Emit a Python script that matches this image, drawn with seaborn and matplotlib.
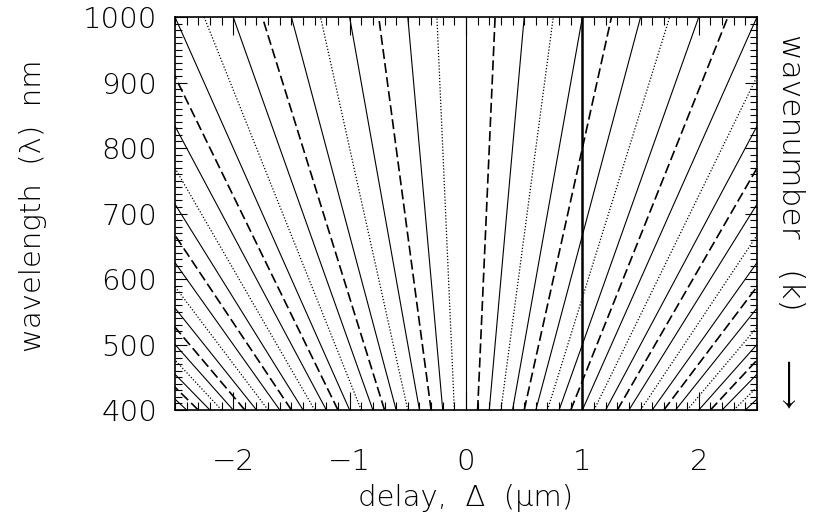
import numpy as np
import pandas as pd
import matplotlib
matplotlib.use("Agg")
import matplotlib.pyplot as plt
import seaborn as sns
from matplotlib import font_manager as fm
from matplotlib.ticker import MultipleLocator, FixedLocator

# ---- data ----
fringe_orders = [-6.25, -6.0, -5.75, -5.5, -5.25, -5.0, -4.75, -4.5, -4.25, -4.0,
                 -3.75, -3.5, -3.25, -3.0, -2.75, -2.5, -2.25, -2.0, -1.75, -1.5,
                 -1.25, -1.0, -0.75, -0.5, -0.25, 0.0, 0.25, 0.5, 0.75, 1.0,
                 1.25, 1.5, 1.75, 2.0, 2.25, 2.5, 2.75, 3.0, 3.25, 3.5,
                 3.75, 4.0, 4.25, 4.5, 4.75, 5.0, 5.25, 5.5, 5.75, 6.0, 6.25]
wavelength_ends = [400, 1000]          # nm
marker_delay = [1.0, 1.0]              # µm, vertical reference line
x_ticks = [-2, -1, 0, 1, 2]
x_tick_labels = ["\u22122", "\u22121", "0", "1", "2"]
y_ticks = [400, 500, 600, 700, 800, 900, 1000]
y_tick_labels = ["400", "500", "600", "700", "800", "900", "1000"]
x_limits = [-2.5, 2.5]
y_limits = [400, 1000]

rows = []
for c in fringe_orders:
    frac = c % 1.0
    kind = "solid" if frac in (0.0, 0.5) else ("dashed" if frac == 0.25 else "dotted")
    for lam in wavelength_ends:
        rows.append({"order": c, "kind": kind, "wavelength": lam, "delay": c * lam / 1000.0})
df = pd.DataFrame(rows)
marker_df = pd.DataFrame({"delay": marker_delay, "wavelength": wavelength_ends})

sns.set_theme(style="ticks")
plt.rcParams["font.family"] = ["DejaVu Sans"]
for key in ["text.color", "axes.labelcolor", "xtick.color", "ytick.color", "axes.edgecolor"]:
    plt.rcParams[key] = "black"

FS = 21
thin = [f for f in fm.fontManager.ttflist
        if f.name == "DejaVu Sans" and f.weight in (200, "extra-light", "ultralight")
        and f.style == "normal"]
if thin:
    FP = fm.FontProperties(fname=thin[0].fname, size=FS)
else:
    FP = fm.FontProperties(family="DejaVu Sans", weight="light", size=FS)
FP_R = FP.copy()
FP_R.set_size(FS + 1.5)

fig = plt.figure(figsize=(8.15, 5.23), dpi=100)
ax = fig.add_axes([175 / 815, 1 - 410 / 523, (757 - 175) / 815, (410 - 17) / 523])

styles = {"solid": dict(linestyle="-", lw=0.8),
          "dashed": dict(linestyle=(0, (6, 2.5)), lw=1.2),
          "dotted": dict(linestyle=(0, (1, 1.5)), lw=0.9)}
for kind, kw in styles.items():
    sub = df[df["kind"] == kind]
    sns.lineplot(data=sub, x="delay", y="wavelength", units="order", estimator=None,
                 sort=False, color="black", legend=False, ax=ax, **kw)
sns.lineplot(data=marker_df, x="delay", y="wavelength", estimator=None, sort=False,
             color="black", lw=1.8, legend=False, ax=ax)

ax.set_xlim(x_limits)
ax.set_ylim(y_limits)
ax.xaxis.set_major_locator(FixedLocator(x_ticks))
ax.yaxis.set_major_locator(FixedLocator(y_ticks))
ax.xaxis.set_minor_locator(MultipleLocator(0.1))
ax.yaxis.set_minor_locator(MultipleLocator(10))
ax.tick_params(axis="both", which="both", direction="in", top=True, right=True,
               colors="black", width=0.8)
ax.tick_params(axis="x", which="major", length=13, pad=27)
ax.tick_params(axis="x", which="minor", length=6)
ax.tick_params(axis="y", which="major", length=8.5, pad=13)
ax.tick_params(axis="y", which="minor", length=4.7)
ax.set_xticklabels(x_tick_labels, fontproperties=FP)
ax.set_yticklabels(y_tick_labels, fontproperties=FP)
for sp in ax.spines.values():
    sp.set_color("black")
    sp.set_linewidth(1.2)
ax.set_facecolor("white")

ax.set_xlabel("")
ax.set_ylabel("")
fig.text(466 / 815, 1 - 498 / 523, "delay,  \u0394  (\u03bcm)", ha="center", va="center",
         fontproperties=FP)
fig.text(33 / 815, 1 - 206 / 523, "wavelength  (\u03bb)  nm", ha="center", va="center",
         rotation=90, fontproperties=FP)
fig.text(790 / 815, 1 - 172 / 523, "wavenumber   (k)", ha="center", va="center",
         rotation=-90, fontproperties=FP_R)
fig.text(790 / 815, 1 - 382 / 523, "$\\longrightarrow$", ha="center", va="center",
         rotation=-90, fontsize=FS + 2, math_fontfamily="stix")

fig.savefig("out.png", dpi=100, facecolor="white")
